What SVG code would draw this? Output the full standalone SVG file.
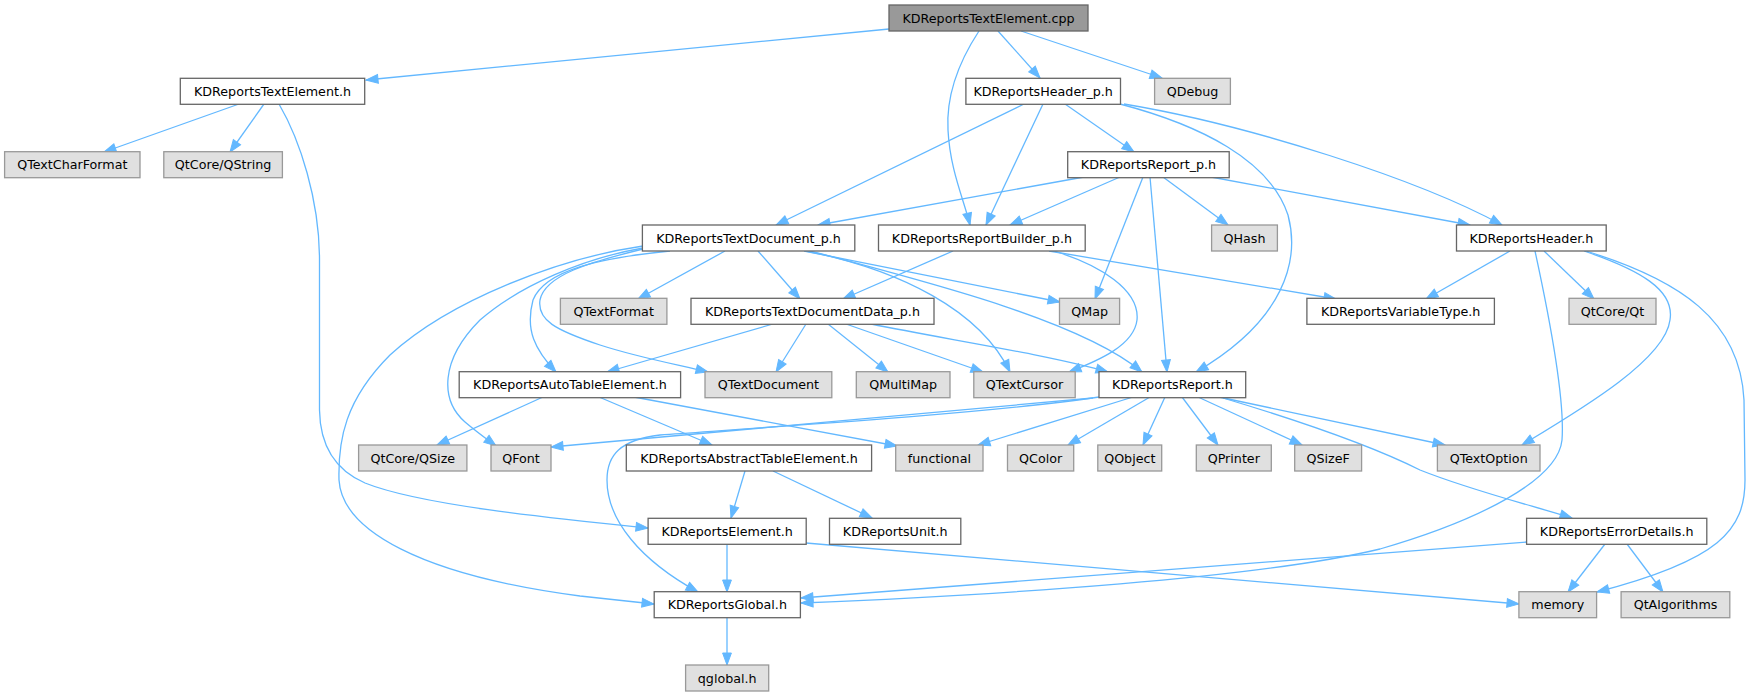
<svg xmlns="http://www.w3.org/2000/svg" width="1750" height="696" viewBox="0 0 1750 696">
<defs>
<style>
.n rect{fill:#ffffff;stroke:#666666;stroke-width:1.3}
.g rect{fill:#e0e0e0;stroke:#999999;stroke-width:1.3}
.r rect{fill:#999999;stroke:#666666;stroke-width:1.3}
text{font-family:"DejaVu Sans","Noto Sans",sans-serif;font-size:12.7px;text-anchor:middle;fill:#000}
.e path{fill:none;stroke:#63b8ff;stroke-width:1.3;marker-end:url(#a)}
</style>
<marker id="a" markerUnits="userSpaceOnUse" markerWidth="13" markerHeight="11" refX="12" refY="5" orient="auto" overflow="visible">
<path d="M0,0.6 L12,5 L0,9.4 z" fill="#63b8ff" stroke="#63b8ff" stroke-width="1"/>
</marker>
</defs>
<rect width="1750" height="696" fill="#ffffff"/>
<g id="edges" class="e">
<path d="M889,29 L366,80"/>
<path d="M998,31 L1040,78"/>
<path d="M1021,31 L1162,78"/>
<path d="M979,31 C960,60 946,95 948,130 C950,170 964,200 970,225"/>
<path d="M239,104 L104,152"/>
<path d="M264,104 L230,152"/>
<path d="M279,104 C300,140 319.5,200 319.5,260 L319.5,410 C320,445 335,470 365,483 C420,505 550,518 648,528"/>
<path d="M1024,104 L776,225"/>
<path d="M1043,104 L986,225"/>
<path d="M1065,104 L1134,152"/>
<path d="M1124,104 C1250,125 1420,180 1502,225"/>
<path d="M1120,104 C1200,125 1270,160 1288,215 C1300,260 1285,320 1196,372"/>
<path d="M1084,177 L818,225"/>
<path d="M1120,177 L1010,225"/>
<path d="M1143,177 L1095,299"/>
<path d="M1150,177 L1167,372"/>
<path d="M1163,177 L1228,225"/>
<path d="M1211,177 L1470,225"/>
<path d="M953,251 L843,299"/>
<path d="M1049,251 L1336,299"/>
<path d="M1054,251 C1100,265 1140,290 1137,320 C1134,345 1100,360 1069,372"/>
<path d="M725,251 L638,299"/>
<path d="M758,251 L800,299"/>
<path d="M804,251 L1060,302"/>
<path d="M806,251 C900,270 980,310 1010,372"/>
<path d="M810,251 C920,280 1080,320 1142,372"/>
<path d="M670,251 C600,258 545,270 533,300 C525,330 535,350 556,372"/>
<path d="M643,249 C590,262 545,275 540,300 C537,320 555,330 600,345 C640,358 680,365 708,372"/>
<path d="M643,248 C585,258 520,285 480,320 C440,360 440,400 465,422 C478,433 488,440 496,446"/>
<path d="M643,246 C560,258 450,300 390,355 C345,400 338,440 339,480 C342,530 420,575 580,596 L654,604"/>
<path d="M773,324 L607,372"/>
<path d="M806,324 L776,372"/>
<path d="M828,324 L888,372"/>
<path d="M846,324 L983,372"/>
<path d="M871,324 C950,340 1050,355 1108,372"/>
<path d="M1510,251 L1426,299"/>
<path d="M1544,251 L1594,299"/>
<path d="M1584,251 C1640,270 1675,290 1670,320 C1665,360 1580,410 1522,445"/>
<path d="M1586,251 C1680,280 1740,320 1744,400 L1745,480 C1745,530 1720,560 1597,592"/>
<path d="M1535,251 C1550,320 1565,400 1562,440 C1558,480 1480,520 1380,549 C1260,578 1000,595 801,603"/>
<path d="M543,397 L437,445"/>
<path d="M599,397 L712,445"/>
<path d="M634,397 L897,446"/>
<path d="M1099,397 C1000,412 800,425 660,435 C620,440 607,455 607,480 C607,520 640,560 698,592"/>
<path d="M1093,398 L551,447"/>
<path d="M1133,397 L978,445"/>
<path d="M1150,397 L1068,445"/>
<path d="M1165,397 L1143,445"/>
<path d="M1182,397 L1218,445"/>
<path d="M1198,397 L1302,445"/>
<path d="M1219,397 L1445,445"/>
<path d="M1223,398 C1330,430 1390,455 1420,470 C1470,490 1530,505 1572,518"/>
<path d="M745,471 L731,518"/>
<path d="M773,471 L872,518"/>
<path d="M727,544 L727,592"/>
<path d="M806,543 L1519,604"/>
<path d="M1527,542 L801,598"/>
<path d="M1605,544 L1568,592"/>
<path d="M1627,544 L1663,592"/>
<path d="M727,618 L727,665"/>
</g>
<g id="n_cpp" class="r"><rect x="889" y="5" width="199" height="26"/><text x="988.5" y="22.6">KDReportsTextElement.cpp</text></g>
<g id="n_textelement_h" class="n"><rect x="180.3" y="78.3" width="184.4" height="26"/><text x="272.5" y="95.9">KDReportsTextElement.h</text></g>
<g id="n_header_p_h" class="n"><rect x="965.9" y="78.3" width="154.6" height="26"/><text x="1043.2" y="95.9">KDReportsHeader_p.h</text></g>
<g id="n_qdebug" class="g"><rect x="1154.6" y="78.3" width="75.8" height="26"/><text x="1192.5" y="95.9">QDebug</text></g>
<g id="n_qtextcharformat" class="g"><rect x="4.6" y="151.7" width="135.4" height="26"/><text x="72.3" y="169.3">QTextCharFormat</text></g>
<g id="n_qstring" class="g"><rect x="163.8" y="151.7" width="118.6" height="26"/><text x="223.1" y="169.3">QtCore/QString</text></g>
<g id="n_report_p_h" class="n"><rect x="1067.7" y="151.7" width="161.5" height="26"/><text x="1148.5" y="169.3">KDReportsReport_p.h</text></g>
<g id="n_textdocument_p_h" class="n"><rect x="642.4" y="225" width="212.4" height="26"/><text x="748.6" y="242.6">KDReportsTextDocument_p.h</text></g>
<g id="n_reportbuilder_p_h" class="n"><rect x="878.5" y="225" width="206.7" height="26"/><text x="981.9" y="242.6">KDReportsReportBuilder_p.h</text></g>
<g id="n_qhash" class="g"><rect x="1211.6" y="225" width="65.8" height="26"/><text x="1244.5" y="242.6">QHash</text></g>
<g id="n_header_h" class="n"><rect x="1456.5" y="225" width="149.7" height="26"/><text x="1531.4" y="242.6">KDReportsHeader.h</text></g>
<g id="n_qtextformat" class="g"><rect x="560.4" y="298.3" width="106.5" height="26"/><text x="613.7" y="315.9">QTextFormat</text></g>
<g id="n_textdocumentdata_p_h" class="n"><rect x="691" y="298.3" width="243" height="26"/><text x="812.5" y="315.9">KDReportsTextDocumentData_p.h</text></g>
<g id="n_qmap" class="g"><rect x="1059.5" y="298.3" width="60.1" height="26"/><text x="1089.6" y="315.9">QMap</text></g>
<g id="n_variabletype_h" class="n"><rect x="1306.9" y="298.3" width="187.5" height="26"/><text x="1400.7" y="315.9">KDReportsVariableType.h</text></g>
<g id="n_qtcore_qt" class="g"><rect x="1569" y="298.3" width="87" height="26"/><text x="1612.5" y="315.9">QtCore/Qt</text></g>
<g id="n_autotableelement_h" class="n"><rect x="459.2" y="371.7" width="221.4" height="26"/><text x="569.9" y="389.3">KDReportsAutoTableElement.h</text></g>
<g id="n_qtextdocument" class="g"><rect x="705" y="371.7" width="126.8" height="26"/><text x="768.4" y="389.3">QTextDocument</text></g>
<g id="n_qmultimap" class="g"><rect x="856.3" y="371.7" width="93.7" height="26"/><text x="903.2" y="389.3">QMultiMap</text></g>
<g id="n_qtextcursor" class="g"><rect x="973.8" y="371.7" width="101.4" height="26"/><text x="1024.5" y="389.3">QTextCursor</text></g>
<g id="n_report_h" class="n"><rect x="1099" y="371.7" width="146.7" height="26"/><text x="1172.4" y="389.3">KDReportsReport.h</text></g>
<g id="n_qsize" class="g"><rect x="358.6" y="445" width="108.3" height="26"/><text x="412.8" y="462.6">QtCore/QSize</text></g>
<g id="n_qfont" class="g"><rect x="491" y="445" width="60" height="26"/><text x="521" y="462.6">QFont</text></g>
<g id="n_abstracttableelement_h" class="n"><rect x="626.3" y="445" width="245.3" height="26"/><text x="749" y="462.6">KDReportsAbstractTableElement.h</text></g>
<g id="n_functional" class="g"><rect x="895.7" y="445" width="87.3" height="26"/><text x="939.4" y="462.6">functional</text></g>
<g id="n_qcolor" class="g"><rect x="1007.5" y="445" width="66.2" height="26"/><text x="1040.6" y="462.6">QColor</text></g>
<g id="n_qobject" class="g"><rect x="1097.8" y="445" width="63.9" height="26"/><text x="1129.8" y="462.6">QObject</text></g>
<g id="n_qprinter" class="g"><rect x="1196.3" y="445" width="75" height="26"/><text x="1233.8" y="462.6">QPrinter</text></g>
<g id="n_qsizef" class="g"><rect x="1294.7" y="445" width="66.9" height="26"/><text x="1328.2" y="462.6">QSizeF</text></g>
<g id="n_qtextoption" class="g"><rect x="1437.4" y="445" width="102.6" height="26"/><text x="1488.7" y="462.6">QTextOption</text></g>
<g id="n_element_h" class="n"><rect x="648.1" y="518.3" width="158.1" height="26"/><text x="727.2" y="535.9">KDReportsElement.h</text></g>
<g id="n_unit_h" class="n"><rect x="829.5" y="518.3" width="131.3" height="26"/><text x="895.2" y="535.9">KDReportsUnit.h</text></g>
<g id="n_errordetails_h" class="n"><rect x="1526.6" y="518.3" width="180.2" height="26"/><text x="1616.7" y="535.9">KDReportsErrorDetails.h</text></g>
<g id="n_global_h" class="n"><rect x="654.2" y="591.7" width="146.2" height="26"/><text x="727.3" y="609.3">KDReportsGlobal.h</text></g>
<g id="n_memory" class="g"><rect x="1518.9" y="591.7" width="77.7" height="26"/><text x="1557.8" y="609.3">memory</text></g>
<g id="n_qtalgorithms" class="g"><rect x="1621.1" y="591.7" width="108.7" height="26"/><text x="1675.5" y="609.3">QtAlgorithms</text></g>
<g id="n_qglobal_h" class="g"><rect x="685.6" y="665" width="83.1" height="26"/><text x="727.2" y="682.6">qglobal.h</text></g>
</svg>
